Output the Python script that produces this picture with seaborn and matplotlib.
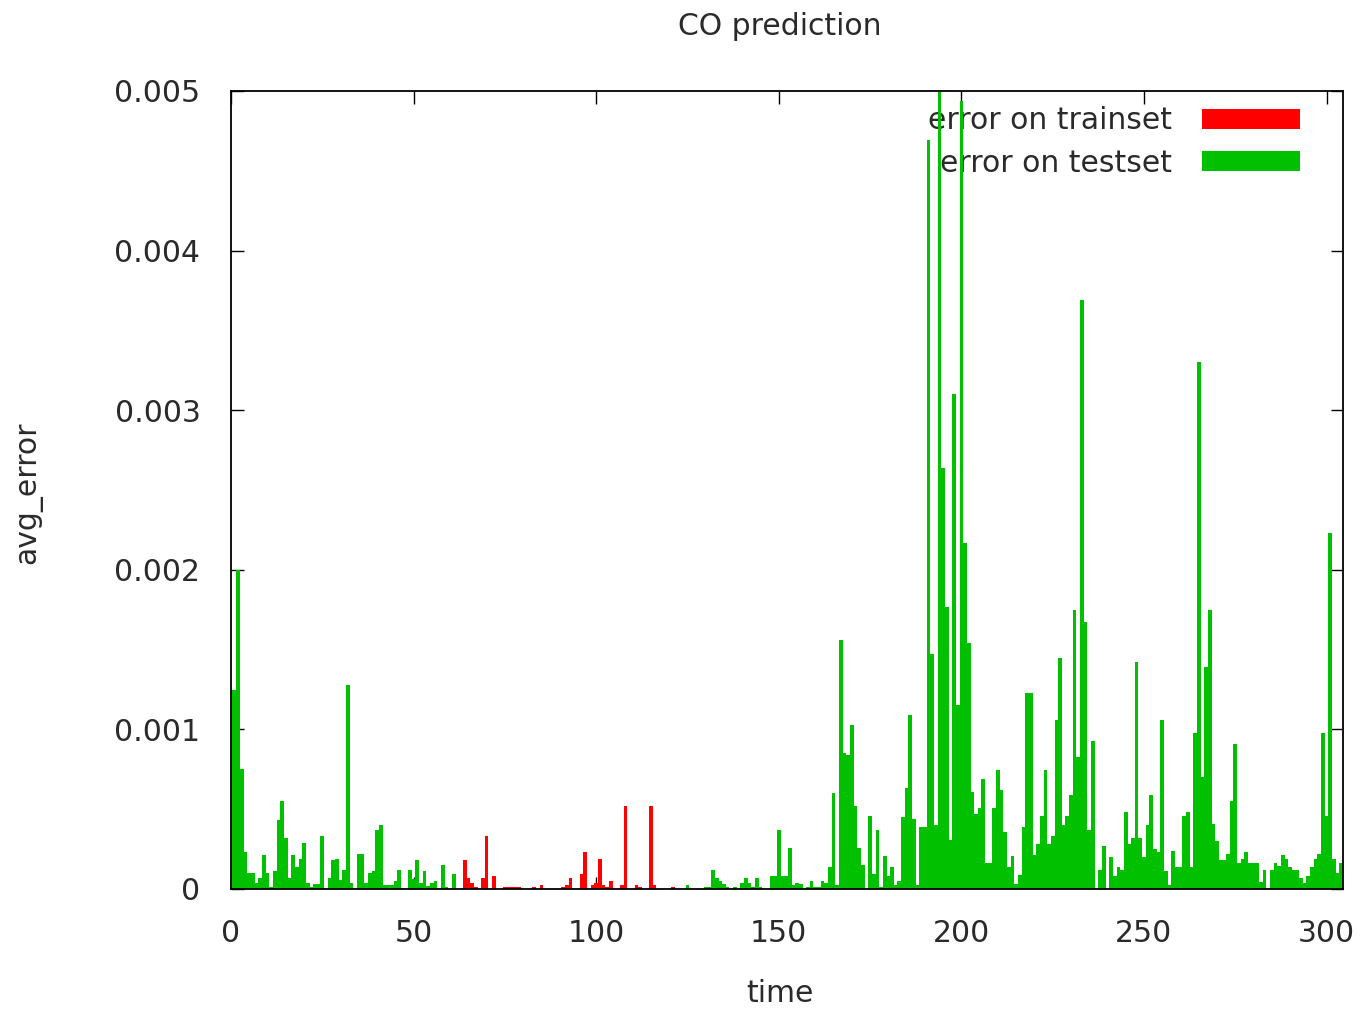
import numpy as np
import pandas as pd
import matplotlib
matplotlib.use("Agg")
import matplotlib.pyplot as plt
from matplotlib.patches import Patch
import seaborn as sns

# ---- data (avg_error in units of 1e-3) ----
test_error_a = [
    1.25, 1.25, 2.0, 0.75, 0.23, 0.10, 0.10, 0.04, 0.07, 0.21,
    0.10, 0.015, 0.11, 0.43, 0.55, 0.32, 0.07, 0.21, 0.14, 0.19,
    0.29, 0.036, 0.015, 0.03, 0.03, 0.33, 0.0, 0.067, 0.18, 0.19,
    0.056, 0.12, 1.28, 0.04, 0.0, 0.22, 0.22, 0.036, 0.10, 0.11,
    0.37, 0.40, 0.025, 0.025, 0.025, 0.05, 0.12, 0.0, 0.0, 0.12,
    0.06, 0.18, 0.035, 0.11, 0.02, 0.035, 0.05, 0.0, 0.15, 0.01,
    0.0, 0.094,
]  # time 0..61
train_error = [
    0.0, 0.0, 0.18, 0.067, 0.04, 0.015, 0.0, 0.067, 0.33, 0.0,
    0.08, 0.0, 0.0, 0.012, 0.012, 0.012, 0.012, 0.012, 0.0, 0.0,
    0.0, 0.012, 0.0, 0.025, 0.0, 0.0, 0.0, 0.0, 0.0, 0.012,
    0.025, 0.067, 0.0, 0.0, 0.094, 0.234, 0.0, 0.025, 0.04, 0.19,
    0.025, 0.015, 0.05, 0.0, 0.0, 0.025, 0.52, 0.0, 0.0, 0.025,
    0.01, 0.0, 0.0, 0.52, 0.025, 0.0, 0.0, 0.0, 0.0, 0.01,
    0.0, 0.0,
]  # time 62..123
test_error_b = [
    0.0, 0.025, 0.0, 0.0, 0.0, 0.0, 0.01, 0.01, 0.12, 0.067,
    0.05, 0.03, 0.01, 0.0, 0.015, 0.0, 0.04, 0.067, 0.035, 0.01,
    0.067, 0.01, 0.0, 0.0, 0.08, 0.08, 0.37, 0.08, 0.08, 0.26,
    0.025, 0.04, 0.03, 0.0, 0.015, 0.05, 0.01, 0.01, 0.05, 0.04,
    0.14, 0.60, 0.025, 1.56, 0.855, 0.84, 1.03, 0.52, 0.26, 0.15,
    0.0, 0.46, 0.094, 0.37, 0.01, 0.207, 0.08, 0.136, 0.025, 0.05,
    0.45, 0.635, 1.09, 0.44, 0.025, 0.39, 0.39, 4.69, 1.47, 0.40,
    5.3, 2.64, 1.77, 0.31, 3.10, 1.15, 4.94, 2.17, 1.54, 0.61,
    0.47, 0.51, 0.69, 0.165, 0.165, 0.51, 0.745, 0.62, 0.36, 0.14,
    0.207, 0.03, 0.088, 0.39, 1.23, 1.23, 0.21, 0.28, 0.46, 0.745,
    0.28, 0.33, 1.06, 1.45, 0.40, 0.46, 0.59, 1.75, 0.83, 3.69,
    1.67, 0.37, 0.93, 0.0, 0.12, 0.27, 0.0, 0.2, 0.08, 0.136,
    0.12, 0.48, 0.28, 0.32, 1.42, 0.32, 0.2, 0.40, 0.59, 0.25,
    0.23, 1.06, 0.11, 0.025, 0.24, 0.14, 0.14, 0.46, 0.48, 0.14,
    0.98, 3.30, 0.70, 1.39, 1.75, 0.41, 0.30, 0.18, 0.18, 0.22,
    0.55, 0.91, 0.165, 0.19, 0.23, 0.16, 0.16, 0.165, 0.046, 0.12,
    0.0, 0.12, 0.16, 0.145, 0.21, 0.19, 0.14, 0.12, 0.12, 0.067,
    0.04, 0.08, 0.14, 0.19, 0.22, 0.98, 0.46, 2.23, 0.19, 0.10,
    0.16,
]  # time 124..304

labels = ["error on trainset", "error on testset"]
colors = {"error on trainset": "#ff0000", "error on testset": "#00c000"}
x_ticks = [0, 50, 100, 150, 200, 250, 300]
y_ticks = [0, 0.001, 0.002, 0.003, 0.004, 0.005]
y_ticklabels = ["0", "0.001", "0.002", "0.003", "0.004", "0.005"]

n_a, n_t = len(test_error_a), len(train_error)
n_b = len(test_error_b)
df = pd.DataFrame({
    "time": np.arange(n_a + n_t + n_b),
    "avg_error": np.array(test_error_a + train_error + test_error_b) * 1e-3,
    "set": [labels[1]] * n_a + [labels[0]] * n_t + [labels[1]] * n_b,
})

sns.set_theme(style="white")
plt.rcParams["font.family"] = ["DejaVu Sans"]
FS = 21.5
TXT = "#2a2a2a"

fig = plt.figure(figsize=(13.62, 10.10), dpi=100)
ax = fig.add_axes([231 / 1362, 1 - 889 / 1010, (1343 - 231) / 1362, (889 - 91) / 1010])

sns.barplot(data=df, x="time", y="avg_error", hue="set", native_scale=True,
            dodge=False, width=1.0, palette=colors, saturation=1,
            errorbar=None, linewidth=0, legend=False, ax=ax, hue_order=labels)

ax.set_xlim(0, 304.5)
ax.set_ylim(0, 0.005)
ax.set_xticks(x_ticks)
ax.set_xticklabels([str(t) for t in x_ticks])
ax.set_yticks(y_ticks)
ax.set_yticklabels(y_ticklabels)
ax.tick_params(axis="both", which="major", direction="in", length=9,
               width=1.0, color="black", labelsize=FS, labelcolor=TXT,
               top=True, right=True, bottom=True, left=True)
ax.tick_params(axis="x", pad=21.5)
ax.tick_params(axis="y", pad=22)
for s in ax.spines.values():
    s.set_visible(True)
    s.set_color("black")
    s.set_linewidth(1.3)
ax.grid(False)

ax.set_xlabel("time", fontsize=FS, color=TXT)
ax.set_ylabel("avg_error", fontsize=FS, color=TXT)
ax.xaxis.set_label_coords(0.4937, -0.113)
ax.yaxis.set_label_coords(-0.170, 0.497)
ax.set_title("CO prediction", fontsize=FS, color=TXT, pad=40, x=0.4937)

handles = [Patch(facecolor=colors[l], edgecolor="none", label=l) for l in labels]
leg = ax.legend(handles=handles, loc="upper right", bbox_to_anchor=(0.9613, 0.981),
                markerfirst=False, frameon=False, fontsize=FS, handlelength=3.28,
                handleheight=0.67, handletextpad=1.0, labelspacing=0.45,
                borderpad=0, borderaxespad=0)
for t in leg.get_texts():
    t.set_color(TXT)
leg.set_zorder(0.5)

fig.savefig("out.png", dpi=100)
